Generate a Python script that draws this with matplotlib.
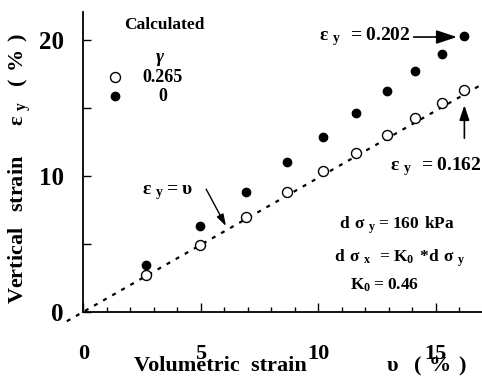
import matplotlib
matplotlib.use("Agg")
import matplotlib.pyplot as plt
from matplotlib.ticker import MultipleLocator, FixedFormatter, FixedLocator

plt.rcParams['font.family'] = ['Liberation Serif', 'DejaVu Serif']
plt.rcParams['font.weight'] = 'bold'

# Data
vol_strain = [2.66, 4.97, 6.93, 8.65, 10.2, 11.6, 12.93, 14.11, 15.25, 16.2]
eps_g0265 = [2.70, 4.90, 6.96, 8.77, 10.32, 11.67, 13.01, 14.24, 15.35, 16.32]
eps_g0 = [3.43, 6.30, 8.77, 10.98, 12.85, 14.6, 16.25, 17.67, 18.95, 20.29]
line_x = [-0.7, 16.95]
line_y = [-0.7, 16.7]
ytick_vals = [0, 5, 10, 15, 20]
ytick_labels = ['0', '', '10', '', '20']
xtick_vals = [0, 5, 10, 15]
xtick_labels = ['0', '5', '10', '15']

fig = plt.figure(figsize=(4.82, 3.76), dpi=100)
ax = fig.add_axes([83.3 / 482, (376 - 311.7) / 376, (482 - 83.3) / 482, (311.7 - 12) / 376])
ax.set_xlim(0, 16.97)
ax.set_ylim(0, 22.04)

for s in ['top', 'right']:
    ax.spines[s].set_visible(False)
for s in ['left', 'bottom']:
    ax.spines[s].set_linewidth(1.3)

# dotted line eps_y = v
ax.plot(line_x, line_y, color='black', linewidth=1.6, linestyle=(0, (1.8, 2.9)),
        clip_on=False, zorder=2)
ax.plot(vol_strain, eps_g0265, linestyle='none', marker='o', markersize=7.2,
        markerfacecolor='white', markeredgecolor='black', markeredgewidth=1.0, zorder=3)
ax.plot(vol_strain, eps_g0, linestyle='none', marker='o', markersize=6,
        markerfacecolor='black', markeredgecolor='black', zorder=3)

# ticks
ax.yaxis.set_major_locator(FixedLocator(ytick_vals))
ax.yaxis.set_major_formatter(FixedFormatter(ytick_labels))
ax.xaxis.set_major_locator(FixedLocator(xtick_vals))
ax.xaxis.set_major_formatter(FixedFormatter(xtick_labels))
ax.xaxis.set_minor_locator(MultipleLocator(1))
ax.tick_params(axis='y', which='major', direction='in', length=6, width=1.0,
               labelsize=18, pad=14)
ax.tick_params(axis='x', which='major', direction='in', length=6.5, width=1.0,
               labelsize=16, pad=23)
ax.tick_params(axis='x', which='minor', direction='in', length=3.5, width=1.0)
for lab in ax.get_xticklabels() + ax.get_yticklabels():
    lab.set_fontweight('bold')

# legend (manual)
ax.text(3.44, 21.08, 'Calculated', ha='center', va='center', fontsize=12.5, fontweight='bold')
ax.text(3.26, 18.73, 'γ', ha='center', va='center', fontsize=14, fontweight='bold', style='italic')
ax.text(3.39, 17.19, '0.265', ha='center', va='center', fontsize=13, fontweight='bold')
ax.text(3.39, 15.79, '0', ha='center', va='center', fontsize=13, fontweight='bold')
ax.plot([0.08], [0.783], transform=ax.transAxes, marker='o', markersize=7.2,
        markerfacecolor='white', markeredgecolor='black', markeredgewidth=1.0, clip_on=False)
ax.plot([0.08], [0.720], transform=ax.transAxes, marker='o', markersize=6,
        markerfacecolor='black', markeredgecolor='black', clip_on=False)

# annotations
ax.annotate(r'$\mathregular{ε_{\ y}\ = 0.202}$', xy=(15.9, 20.2), xytext=(11.99, 20.2),
            ha='center', va='center', fontsize=14, fontweight='bold',
            arrowprops=dict(arrowstyle='-|>,head_length=0.9,head_width=0.3', color='black',
                            lw=1.2, shrinkA=47, shrinkB=0))
ax.text(15.0, 10.64, r'$\mathregular{ε_{\ y}\ = 0.162}$', ha='center', va='center',
        fontsize=14, fontweight='bold')
ax.annotate('', xy=(16.22, 15.19), xytext=(16.22, 12.76),
            arrowprops=dict(arrowstyle='-|>,head_length=0.9,head_width=0.3', color='black',
                            lw=1.2, shrinkA=0, shrinkB=0))
ax.text(3.58, 8.8, r'$\mathregular{ε_{\ y}= υ}$', ha='center', va='center',
        fontsize=14, fontweight='bold')
ax.annotate('', xy=(6.07, 6.30), xytext=(5.23, 9.01),
            arrowprops=dict(arrowstyle='-|>,head_length=0.7,head_width=0.22', color='black',
                            lw=1.0, shrinkA=0, shrinkB=0))

# condition texts
ax.text(13.34, 6.37, r'$\mathregular{d\ σ_{\ y}= 160\ kPa}$', ha='center', va='center',
        fontsize=12.5, fontweight='bold')
ax.text(13.47, 3.95, r'$\mathregular{d\ σ_{\ x}\ =K_0\ {*}d\ σ_{\ y}}$', ha='center', va='center',
        fontsize=12.5, fontweight='bold')
ax.text(12.83, 1.96, r'$\mathregular{K_0= 0.46}$', ha='center', va='center',
        fontsize=12.5, fontweight='bold')

# axis labels
fig.text(220 / 482, 1 - 366 / 376, 'Volumetric  strain', ha='center', va='center',
         fontsize=16, fontweight='bold')
fig.text(426 / 482, 1 - 366 / 376, r'$\mathregular{υ\ \ (\ \%\ )}$', ha='center', va='center',
         fontsize=16, fontweight='bold')
fig.text(20 / 482, 1 - 168 / 376,
         r'$\mathregular{Vertical\ \ strain\ \ \ \ ε_{\ y}\ \ (\ \%\ )}$',
         rotation=90, ha='center', va='center', fontsize=16, fontweight='bold')

fig.savefig('out.png', dpi=100)
